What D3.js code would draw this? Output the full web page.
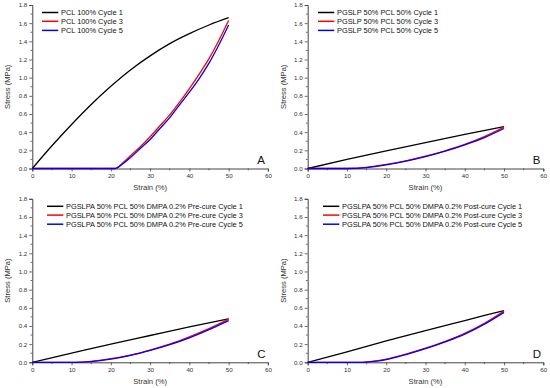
<!DOCTYPE html>
<html><head><meta charset="utf-8">
<script src="https://cdn.jsdelivr.net/npm/d3@7"></script>
<style>html,body{margin:0;padding:0;background:#fff;}svg{display:block;font-family:"Liberation Sans",Arial,sans-serif;}</style>
</head><body>
<svg id="chart" width="550" height="388"></svg>
<script>
// ---------- data ----------
const xTicks = [0, 10, 20, 30, 40, 50, 60];
const yTicks = [0.0, 0.2, 0.4, 0.6, 0.8, 1.0, 1.2, 1.4, 1.6, 1.8];
const panelLetters = ["A", "B", "C", "D"];
const seriesColors = ["#000000", "#ff0000", "#0000ff"];

const legendA = ["PCL 100% Cycle 1", "PCL 100% Cycle 3", "PCL 100% Cycle 5"];
const legendB = ["PGSLP 50% PCL 50% Cycle 1", "PGSLP 50% PCL 50% Cycle 3", "PGSLP 50% PCL 50% Cycle 5"];
const legendC = ["PGSLPA 50% PCL 50% DMPA 0.2% Pre-cure Cycle 1", "PGSLPA 50% PCL 50% DMPA 0.2% Pre-cure Cycle 3", "PGSLPA 50% PCL 50% DMPA 0.2% Pre-cure Cycle 5"];
const legendD = ["PGSLPA 50% PCL 50% DMPA 0.2% Post-cure Cycle 1", "PGSLPA 50% PCL 50% DMPA 0.2% Post-cure Cycle 3", "PGSLPA 50% PCL 50% DMPA 0.2% Post-cure Cycle 5"];

// Panel A
const strainA1 = [0, 5, 10, 15, 20, 25, 30, 35, 40, 45, 50];
const stressA1 = [0, 0.25, 0.485, 0.705, 0.905, 1.085, 1.24, 1.375, 1.485, 1.58, 1.66];
const strainA35 = [0, 21, 23, 25, 27.5, 30, 32.5, 35, 37.5, 40, 42.5, 45, 47.5, 50];
const stressA3 = [0, 0, 0.06, 0.14, 0.24, 0.35, 0.47, 0.59, 0.73, 0.88, 1.04, 1.21, 1.41, 1.63];
const stressA5 = [0, 0, 0.05, 0.12, 0.22, 0.32, 0.44, 0.56, 0.70, 0.84, 0.99, 1.16, 1.36, 1.58];
// Panel B
const strainB1 = [0, 10, 20, 30, 40, 50];
const stressB1 = [0, 0.10, 0.195, 0.285, 0.375, 0.46];
const strainB35 = [0, 10, 15, 20, 25, 30, 35, 40, 45, 50];
const stressB3 = [0, 0, 0.012, 0.045, 0.085, 0.135, 0.195, 0.265, 0.35, 0.455];
const stressB5 = [0, 0, 0.010, 0.040, 0.080, 0.130, 0.190, 0.260, 0.34, 0.44];
// Panel C
const strainC1 = [0, 10, 20, 30, 40, 50];
const stressC1 = [0, 0.10, 0.20, 0.295, 0.39, 0.48];
const strainC35 = [0, 11, 15, 20, 25, 30, 35, 40, 45, 50];
const stressC3 = [0, 0, 0.010, 0.040, 0.080, 0.135, 0.200, 0.280, 0.37, 0.475];
const stressC5 = [0, 0, 0.008, 0.035, 0.075, 0.130, 0.195, 0.270, 0.36, 0.46];
// Panel D
const strainD1 = [0, 10, 20, 30, 40, 50];
const stressD1 = [0, 0.115, 0.235, 0.35, 0.46, 0.57];
const strainD35 = [0, 14, 17.5, 20, 25, 30, 35, 40, 45, 50];
const stressD3 = [0, 0, 0.015, 0.035, 0.090, 0.155, 0.230, 0.320, 0.43, 0.565];
const stressD5 = [0, 0, 0.012, 0.030, 0.085, 0.150, 0.225, 0.310, 0.42, 0.55];

// ---------- build ----------
const zip = (xs, ys) => xs.map((x, i) => ({x, y: ys[i]}));
const panels = [
  {ox: 0, oy: 0, legend: legendA, legX: 9.7,
   series: [zip(strainA1, stressA1), zip(strainA35, stressA3), zip(strainA35, stressA5)]},
  {ox: 275.4, oy: 0, legend: legendB, legX: 10.3,
   series: [zip(strainB1, stressB1), zip(strainB35, stressB3), zip(strainB35, stressB5)]},
  {ox: 0, oy: 193.8, legend: legendC, legX: 14.7,
   series: [zip(strainC1, stressC1), zip(strainC35, stressC3), zip(strainC35, stressC5)]},
  {ox: 275.4, oy: 193.8, legend: legendD, legX: 15.3,
   series: [zip(strainD1, stressD1), zip(strainD35, stressD3), zip(strainD35, stressD5)]}
];

const svg = d3.select("#chart");
const PL = 32.3, PT = 5, PW = 235.6, PH = 163.5;
const axisColor = "#444", textColor = "#333";

panels.forEach((p, pi) => {
  const g = svg.append("g").attr("transform", `translate(${p.ox + PL},${p.oy + PT})`);
  const x = d3.scaleLinear().domain([0, 60]).range([0, PW]);
  const y = d3.scaleLinear().domain([0, 1.8]).range([PH, 0]);

  // minor ticks
  const xMinor = d3.range(5, 60, 10);
  const yMinor = d3.range(0.1, 1.8, 0.2);
  g.append("g").selectAll("line").data(xMinor).join("line")
    .attr("x1", d => x(d)).attr("x2", d => x(d)).attr("y1", PH).attr("y2", PH + 1.8)
    .attr("stroke", axisColor).attr("stroke-width", 0.8);
  g.append("g").selectAll("line").data(yMinor).join("line")
    .attr("y1", d => y(d)).attr("y2", d => y(d)).attr("x1", 0).attr("x2", -1.8)
    .attr("stroke", axisColor).attr("stroke-width", 0.8);

  const xAxis = g.append("g").attr("transform", `translate(0,${PH})`)
    .call(d3.axisBottom(x).tickValues(xTicks).tickFormat(d3.format("d")).tickSize(3).tickPadding(2));
  const yAxis = g.append("g")
    .call(d3.axisLeft(y).tickValues(yTicks).tickFormat(d3.format(".1f")).tickSize(3).tickPadding(2));
  [xAxis, yAxis].forEach(a => {
    a.select(".domain").attr("stroke", axisColor).attr("stroke-width", 1);
    a.selectAll(".tick line").attr("stroke", axisColor).attr("stroke-width", 0.8);
    a.selectAll(".tick text").attr("fill", textColor).style("font-size", "6.2px")
      .style("font-family", '"Liberation Sans",Arial,sans-serif');
  });

  // axis titles
  g.append("text").attr("x", PW / 2).attr("y", PH + 21.5).attr("text-anchor", "middle")
    .attr("fill", textColor).style("font-size", "7.6px").text("Strain (%)");
  g.append("text").attr("transform", `translate(${-PL + 10.3},${PH / 2}) rotate(-90)`)
    .attr("text-anchor", "middle").attr("fill", textColor).style("font-size", "7.6px").text("Stress (MPa)");

  // lines
  const line = d3.line().x(d => x(d.x)).y(d => y(d.y)).curve(d3.curveMonotoneX);
  p.series.forEach((s, si) => {
    g.append("path").datum(s).attr("d", line).attr("fill", "none")
      .attr("stroke", seriesColors[si]).attr("stroke-width", 1.3).attr("stroke-linejoin", "round");
  });

  // legend
  const rowsY = [7.5, 16.3, 25.4];
  p.legend.forEach((t, i) => {
    g.append("line").attr("x1", p.legX).attr("x2", p.legX + 16.3)
      .attr("y1", rowsY[i]).attr("y2", rowsY[i]).attr("stroke", seriesColors[i]).attr("stroke-width", 1.5);
    g.append("text").attr("x", p.legX + 19).attr("y", rowsY[i] + 2.7)
      .attr("fill", "#111").style("font-size", "7.4px").text(t);
  });

  // panel letter
  g.append("text").attr("x", 225).attr("y", PH - 4.5).attr("fill", "#111")
    .style("font-size", "11.5px").text(panelLetters[pi]);
});
</script>
</body></html>
